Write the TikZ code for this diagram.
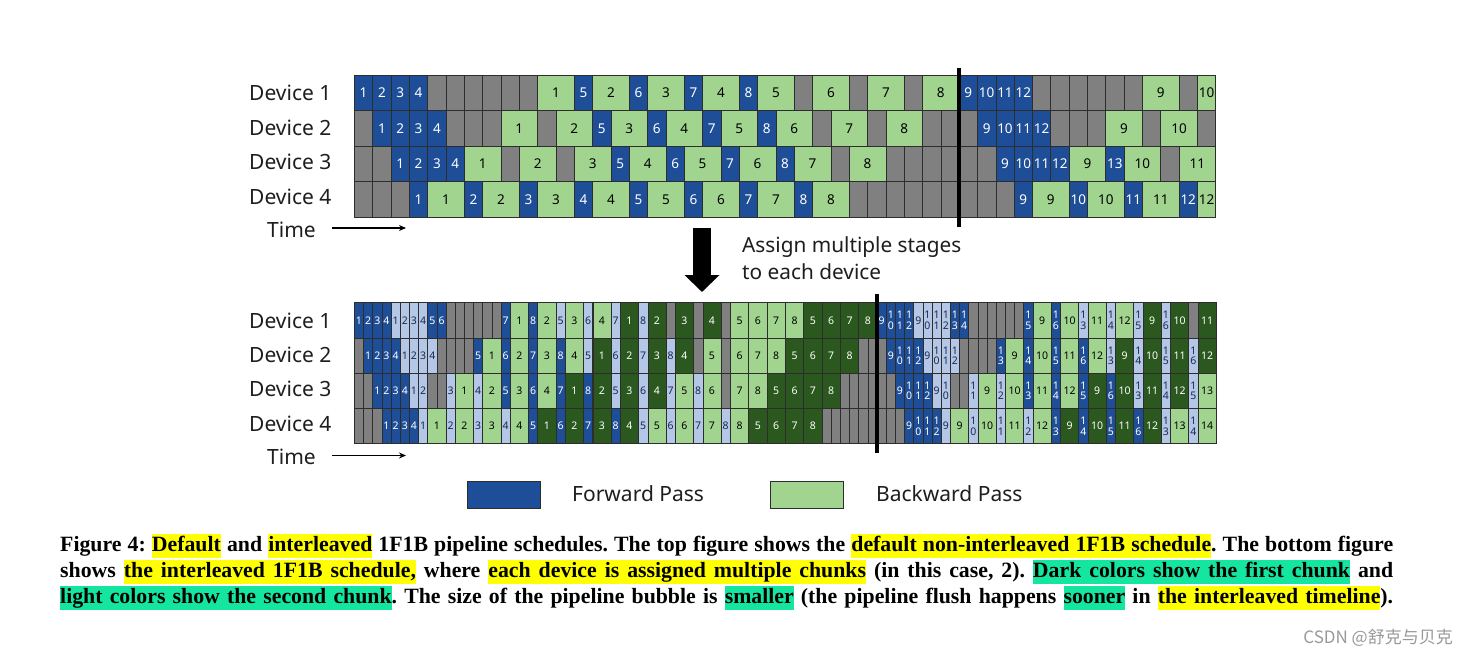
\documentclass[tikz,border=0pt]{standalone}
\usepackage{fontspec}
\usetikzlibrary{arrows.meta}
\newfontfamily\sansf{Noto Sans}
\newfontfamily\capf{Liberation Serif}
\newfontfamily\cjkf{Noto Sans CJK SC}
\definecolor{fwdblue}{RGB}{31,78,152}
\definecolor{ltblue}{RGB}{180,199,231}
\definecolor{ltgreen}{RGB}{161,212,142}
\definecolor{dkgreen}{RGB}{43,88,30}
\definecolor{cellgray}{RGB}{128,128,128}
\definecolor{cellline}{RGB}{45,45,45}
\definecolor{hly}{RGB}{255,255,0}
\definecolor{hlg}{RGB}{20,230,160}
\definecolor{ltbluetext}{RGB}{25,40,80}
\definecolor{labtext}{RGB}{30,30,30}

\newcommand\stk[1]{\vbox{\baselineskip=10.5pt\lineskiplimit=-20pt\hbox{1}\hbox{#1}}}
\newcommand\blabel[2]{\ifnum#1=1 \ifnum#2>9 \stk{\number\numexpr#2-10\relax}\else#2\fi\else#2\fi}

\newcommand\hlstrut{\rule[-6.5pt]{0pt}{23.5pt}}
\newcommand\hw[2]{{\setlength\fboxsep{0pt}\colorbox{#1}{\hlstrut#2}}}
\newcommand\hsp[1]{{\color{#1}\leaders\hrule height 17pt depth 6.5pt\hskip\fontdimen2\font plus\fontdimen3\font minus\fontdimen4\font}}
\newcommand\hY[1]{\hw{hly}{#1}}
\newcommand\hG[1]{\hw{hlg}{#1}}
\newcommand\sY{\hsp{hly}}
\newcommand\sG{\hsp{hlg}}
\newcommand\capline[1]{\makebox[1333pt][s]{#1}}

\def\TopU{18.326}
\def\TopX{354.4}
\def\TopY{75}
\def\TopH{35.5}
\def\BotU{9.169}
\def\BotX{354.4}
\def\BotY{302.7}
\def\BotH{35.25}

\tikzset{
  cellbase/.style={draw=cellline, line width=0.6pt, inner sep=0pt, outer sep=0pt},
  gcell/.style={cellbase, fill=cellgray},
  fw/.style={cellbase, fill=fwdblue, text=white},
  lb/.style={cellbase, fill=ltblue, text=ltbluetext},
  lg/.style={cellbase, fill=ltgreen, text=black},
  dg/.style={cellbase, fill=dkgreen, text=white},
  topfont/.style={font=\sansf\fontsize{13.5}{13.5}\selectfont},
  botfont/.style={font=\sansf\fontsize{10.5}{10.5}\selectfont},
  devlab/.style={font=\sansf\fontsize{21}{25}\selectfont, text=labtext, inner sep=0pt},
  sepline/.style={line width=4pt, black},
  timearrow/.style={line width=1.1pt, black, -{Stealth[length=7pt,width=6pt]}},
  bigarrow/.style={line width=17.5pt, black, -{Triangle[length=17pt,width=34pt]}},
  capfont/.style={font=\capf\bfseries\fontsize{21.8}{26}\selectfont, inner sep=0pt, anchor=base west}
}

\newcommand\toprow[2]{%
  \foreach \st/\len/\ty/\lab in {#2}{%
    \node[\ty, topfont, minimum width=\len*\TopU pt, minimum height=\TopH pt]
      (tc#1-\st) at ({\TopX+(\st+\len/2)*\TopU},{\TopY+(#1-0.5)*\TopH}) {\lab};
  }}
\newcommand\botrow[2]{%
  \foreach \st/\len/\ty/\lab in {#2}{%
    \node[\ty, botfont, minimum width=\len*\BotU pt, minimum height=\BotH pt]
      (bc#1-\st) at ({\BotX+(\st+\len/2)*\BotU},{\BotY+(#1-0.5)*\BotH}) {\blabel{\len}{\lab}};
  }}

\begin{document}
\begin{tikzpicture}[x=1pt,y=-1pt]
\fill[white] (0,0) rectangle (1468,656);
\useasboundingbox (0,0) rectangle (1468,656);

% ---------- top grid: gray background ----------
\foreach \r in {1,...,4}{
  \foreach \i in {0,...,46}{
    \node[gcell, minimum width=\TopU pt, minimum height=\TopH pt] (tg\r-\i)
      at ({\TopX+(\i+0.5)*\TopU},{\TopY+(\r-0.5)*\TopH}) {};
  }}
\toprow{1}{0/1/fw/1, 1/1/fw/2, 2/1/fw/3, 3/1/fw/4, 10/2/lg/1, 12/1/fw/5, 13/2/lg/2, 15/1/fw/6, 16/2/lg/3, 18/1/fw/7, 19/2/lg/4, 21/1/fw/8, 22/2/lg/5, 25/2/lg/6, 28/2/lg/7, 31/2/lg/8, 33/1/fw/9, 34/1/fw/10, 35/1/fw/11, 36/1/fw/12, 43/2/lg/9, 46/1/lg/10}
\toprow{2}{1/1/fw/1, 2/1/fw/2, 3/1/fw/3, 4/1/fw/4, 8/2/lg/1, 11/2/lg/2, 13/1/fw/5, 14/2/lg/3, 16/1/fw/6, 17/2/lg/4, 19/1/fw/7, 20/2/lg/5, 22/1/fw/8, 23/2/lg/6, 26/2/lg/7, 29/2/lg/8, 34/1/fw/9, 35/1/fw/10, 36/1/fw/11, 37/1/fw/12, 41/2/lg/9, 44/2/lg/10}
\toprow{3}{2/1/fw/1, 3/1/fw/2, 4/1/fw/3, 5/1/fw/4, 6/2/lg/1, 9/2/lg/2, 12/2/lg/3, 14/1/fw/5, 15/2/lg/4, 17/1/fw/6, 18/2/lg/5, 20/1/fw/7, 21/2/lg/6, 23/1/fw/8, 24/2/lg/7, 27/2/lg/8, 35/1/fw/9, 36/1/fw/10, 37/1/fw/11, 38/1/fw/12, 39/2/lg/9, 41/1/fw/13, 42/2/lg/10, 45/2/lg/11}
\toprow{4}{3/1/fw/1, 4/2/lg/1, 6/1/fw/2, 7/2/lg/2, 9/1/fw/3, 10/2/lg/3, 12/1/fw/4, 13/2/lg/4, 15/1/fw/5, 16/2/lg/5, 18/1/fw/6, 19/2/lg/6, 21/1/fw/7, 22/2/lg/7, 24/1/fw/8, 25/2/lg/8, 36/1/fw/9, 37/2/lg/9, 39/1/fw/10, 40/2/lg/10, 42/1/fw/11, 43/2/lg/11, 45/1/fw/12, 46/1/lg/12}

% ---------- bottom grid: gray background ----------
\foreach \r in {1,...,4}{
  \foreach \i in {0,...,93}{
    \node[gcell, minimum width=\BotU pt, minimum height=\BotH pt] (bg\r-\i)
      at ({\BotX+(\i+0.5)*\BotU},{\BotY+(\r-0.5)*\BotH}) {};
  }}
\botrow{1}{0/1/fw/1, 1/1/fw/2, 2/1/fw/3, 3/1/fw/4, 4/1/lb/1, 5/1/lb/2, 6/1/lb/3, 7/1/lb/4, 8/1/fw/5, 9/1/fw/6, 16/1/fw/7, 17/2/lg/1, 19/1/fw/8, 20/2/lg/2, 22/1/lb/5, 23/2/lg/3, 25/1/lb/6, 26/2/lg/4, 28/1/lb/7, 29/2/dg/1, 31/1/lb/8, 32/2/dg/2, 35/2/dg/3, 38/2/dg/4, 41/2/lg/5, 43/2/lg/6, 45/2/lg/7, 47/2/lg/8, 49/2/dg/5, 51/2/dg/6, 53/2/dg/7, 55/2/dg/8, 57/1/fw/9, 58/1/fw/10, 59/1/fw/11, 60/1/fw/12, 61/1/lb/9, 62/1/lb/10, 63/1/lb/11, 64/1/lb/12, 65/1/fw/13, 66/1/fw/14, 73/1/fw/15, 74/2/lg/9, 76/1/fw/16, 77/2/lg/10, 79/1/lb/13, 80/2/lg/11, 82/1/lb/14, 83/2/lg/12, 85/1/lb/15, 86/2/dg/9, 88/1/lb/16, 89/2/dg/10, 92/2/dg/11}
\botrow{2}{1/1/fw/1, 2/1/fw/2, 3/1/fw/3, 4/1/fw/4, 5/1/lb/1, 6/1/lb/2, 7/1/lb/3, 8/1/lb/4, 13/1/fw/5, 14/2/lg/1, 16/1/fw/6, 17/2/lg/2, 19/1/fw/7, 20/2/lg/3, 22/1/fw/8, 23/2/lg/4, 25/1/lb/5, 26/2/dg/1, 28/1/lb/6, 29/2/dg/2, 31/1/lb/7, 32/2/dg/3, 34/1/lb/8, 35/2/dg/4, 38/2/lg/5, 41/2/lg/6, 43/2/lg/7, 45/2/lg/8, 47/2/dg/5, 49/2/dg/6, 51/2/dg/7, 53/2/dg/8, 58/1/fw/9, 59/1/fw/10, 60/1/fw/11, 61/1/fw/12, 62/1/lb/9, 63/1/lb/10, 64/1/lb/11, 65/1/lb/12, 70/1/fw/13, 71/2/lg/9, 73/1/fw/14, 74/2/lg/10, 76/1/fw/15, 77/2/lg/11, 79/1/fw/16, 80/2/lg/12, 82/1/lb/13, 83/2/dg/9, 85/1/lb/14, 86/2/dg/10, 88/1/lb/15, 89/2/dg/11, 91/1/lb/16, 92/2/dg/12}
\botrow{3}{2/1/fw/1, 3/1/fw/2, 4/1/fw/3, 5/1/fw/4, 6/1/lb/1, 7/1/lb/2, 10/1/lb/3, 11/2/lg/1, 13/1/lb/4, 14/2/lg/2, 16/1/fw/5, 17/2/lg/3, 19/1/fw/6, 20/2/lg/4, 22/1/fw/7, 23/2/dg/1, 25/1/fw/8, 26/2/dg/2, 28/1/lb/5, 29/2/dg/3, 31/1/lb/6, 32/2/dg/4, 34/1/lb/7, 35/2/lg/5, 37/1/lb/8, 38/2/lg/6, 41/2/lg/7, 43/2/lg/8, 45/2/dg/5, 47/2/dg/6, 49/2/dg/7, 51/2/dg/8, 59/1/fw/9, 60/1/fw/10, 61/1/fw/11, 62/1/fw/12, 63/1/lb/9, 64/1/lb/10, 67/1/lb/11, 68/2/lg/9, 70/1/lb/12, 71/2/lg/10, 73/1/fw/13, 74/2/lg/11, 76/1/fw/14, 77/2/lg/12, 79/1/fw/15, 80/2/dg/9, 82/1/fw/16, 83/2/dg/10, 85/1/lb/13, 86/2/dg/11, 88/1/lb/14, 89/2/dg/12, 91/1/lb/15, 92/2/lg/13}
\botrow{4}{3/1/fw/1, 4/1/fw/2, 5/1/fw/3, 6/1/fw/4, 7/1/lb/1, 8/2/lg/1, 10/1/lb/2, 11/2/lg/2, 13/1/lb/3, 14/2/lg/3, 16/1/lb/4, 17/2/lg/4, 19/1/fw/5, 20/2/dg/1, 22/1/fw/6, 23/2/dg/2, 25/1/fw/7, 26/2/dg/3, 28/1/fw/8, 29/2/dg/4, 31/1/lb/5, 32/2/lg/5, 34/1/lb/6, 35/2/lg/6, 37/1/lb/7, 38/2/lg/7, 40/1/lb/8, 41/2/lg/8, 43/2/dg/5, 45/2/dg/6, 47/2/dg/7, 49/2/dg/8, 60/1/fw/9, 61/1/fw/10, 62/1/fw/11, 63/1/fw/12, 64/1/lb/9, 65/2/lg/9, 67/1/lb/10, 68/2/lg/10, 70/1/lb/11, 71/2/lg/11, 73/1/lb/12, 74/2/lg/12, 76/1/fw/13, 77/2/dg/9, 79/1/fw/14, 80/2/dg/10, 82/1/fw/15, 83/2/dg/11, 85/1/fw/16, 86/2/dg/12, 88/1/lb/13, 89/2/lg/13, 91/1/lb/14, 92/2/lg/14}

% ---------- separators ----------
\coordinate (sepTa) at (959.2,67.5);
\coordinate (sepTb) at (959.2,227);
\draw[sepline] (sepTa) -- (sepTb);
\coordinate (sepBa) at (877.0,293.5);
\coordinate (sepBb) at (877.0,453);
\draw[sepline] (sepBa) -- (sepBb);

% ---------- labels ----------
\node[devlab, anchor=west] (tl1) at (249,93) {Device 1};
\node[devlab, anchor=west] (tl2) at (249,127.5) {Device 2};
\node[devlab, anchor=west] (tl3) at (249,162) {Device 3};
\node[devlab, anchor=west] (tl4) at (249,197) {Device 4};
\node[devlab, anchor=west] (tlt) at (267,230) {Time};
\coordinate (tta) at (332,228);
\coordinate (ttb) at (406,228);
\draw[timearrow] (tta) -- (ttb);

\node[devlab, anchor=west] (bl1) at (249,320.5) {Device 1};
\node[devlab, anchor=west] (bl2) at (249,354.5) {Device 2};
\node[devlab, anchor=west] (bl3) at (249,389) {Device 3};
\node[devlab, anchor=west] (bl4) at (249,424) {Device 4};
\node[devlab, anchor=west] (blt) at (267,457) {Time};
\coordinate (bta) at (332,455.5);
\coordinate (btb) at (406,455.5);
\draw[timearrow] (bta) -- (btb);

% ---------- big arrow and its text ----------
\coordinate (arrS) at (702,228);
\coordinate (arrE) at (702,292);
\draw[bigarrow] (arrS) -- (arrE);
\node[devlab, anchor=west, align=left, font=\sansf\fontsize{20.8}{26.7}\selectfont] (assign) at (742,258.5) {Assign multiple stages\\to each device};

% ---------- legend ----------
\node[cellbase, fill=fwdblue, minimum width=73pt, minimum height=27pt] (legF) at (503.5,494.5) {};
\node[devlab, anchor=west] (legFt) at (572,494) {Forward Pass};
\node[cellbase, fill=ltgreen, minimum width=73pt, minimum height=27pt] (legB) at (806.5,494.5) {};
\node[devlab, anchor=west] (legBt) at (876,494) {Backward Pass};

% ---------- caption ----------
\node[capfont] (cap1) at (60,551) {\frenchspacing\capline{Figure 4: \hY{Default} and \hY{interleaved} 1F1B pipeline schedules. The top figure shows the \hY{default}\sY\hY{non-interleaved}\sY\hY{1F1B}\sY\hY{schedule}. The bottom figure}};
\node[capfont] (cap2) at (60,577) {\frenchspacing\capline{shows \hY{the}\sY\hY{interleaved}\sY\hY{1F1B}\sY\hY{schedule,} where \hY{each}\sY\hY{device}\sY\hY{is}\sY\hY{assigned}\sY\hY{multiple}\sY\hY{chunks} (in this case, 2). \hG{Dark}\sG\hG{colors}\sG\hG{show}\sG\hG{the}\sG\hG{first}\sG\hG{chunk} and}};
\node[capfont] (cap3) at (60,603) {\frenchspacing\capline{\hG{light}\sG\hG{colors}\sG\hG{show}\sG\hG{the}\sG\hG{second}\sG\hG{chunk}. The size of the pipeline bubble is \hG{smaller} (the pipeline flush happens \hG{sooner} in \hY{the}\sY\hY{interleaved}\sY\hY{timeline}).}};

% ---------- watermark ----------
\node[anchor=base east, inner sep=0pt, font=\cjkf\fontsize{17}{20}\selectfont, text=black!40] (wm) at (1453,643) {CSDN @舒克与贝克};
\end{tikzpicture}
\end{document}
